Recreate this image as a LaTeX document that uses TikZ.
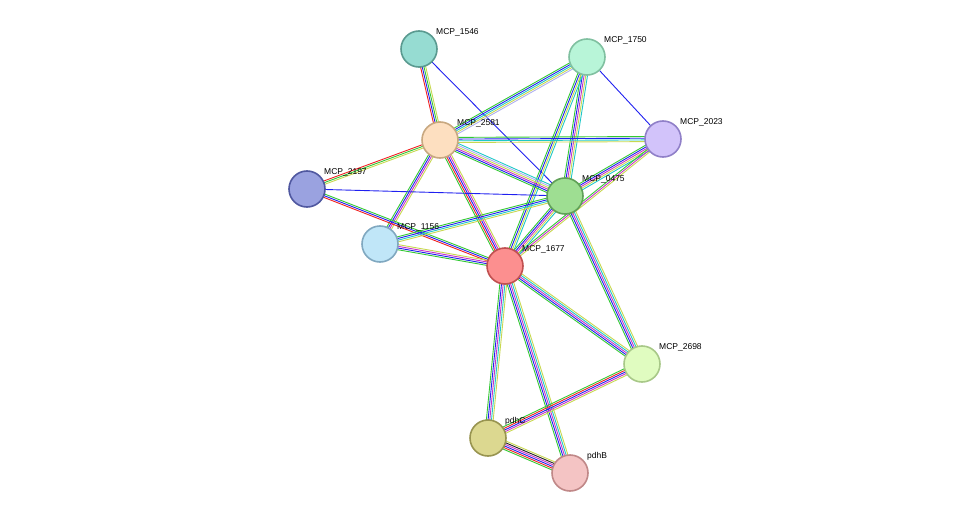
\documentclass[tikz,border=0pt]{standalone}
\usepackage{fontspec}
\setmainfont{Liberation Sans}
\usetikzlibrary{calc}
\definecolor{G}{HTML}{33C833}\definecolor{R}{HTML}{F02020}\definecolor{B}{HTML}{2020F0}
\definecolor{C}{HTML}{20C8C8}\definecolor{M}{HTML}{C832C8}\definecolor{Y}{HTML}{C8D850}
\definecolor{K}{HTML}{202020}\definecolor{L}{HTML}{B0B0F0}
\newcommand\sedge[4]{\foreach \c [count=\i] in {#4}{%
 \pgfmathsetmacro\o{(\i-(#3+1)/2)*1.7}%
 \draw[\c,line width=0.9pt] ($(#1.center)!\o pt!90:(#2.center)$) -- ($(#2.center)!\o pt!-90:(#1.center)$);}}
\tikzset{prot/.style={circle,minimum size=36pt,line width=1.6pt,inner sep=0pt},
 lab/.style={anchor=south west,font=\fontsize{8.5}{10}\selectfont,inner sep=1pt}}
\begin{document}
\begin{tikzpicture}[x=1pt,y=-1pt]
\useasboundingbox (0,0) rectangle (975,519);
\coordinate (n1546) at (419,49); \coordinate (n1750) at (587,57);
\coordinate (n2023) at (663,139); \coordinate (n2581) at (440,140);
\coordinate (n2197) at (307,189); \coordinate (n0475) at (565,196);
\coordinate (n1156) at (380,244); \coordinate (n1677) at (505,266);
\coordinate (n2698) at (642,364); \coordinate (pdhC) at (488,438);
\coordinate (pdhB) at (570,473);
\sedge{n1546}{n2581}{4}{R,B,G,Y}
\sedge{n1546}{n0475}{1}{B}
\sedge{n1750}{n2581}{5}{G,B,C,Y,L}
\sedge{n1750}{n2023}{1}{B}
\sedge{n1750}{n0475}{5}{G,B,M,Y,C}
\sedge{n1750}{n1677}{4}{G,B,Y,C}
\sedge{n2023}{n2581}{4}{G,B,C,Y}
\sedge{n2023}{n0475}{5}{G,B,M,Y,C}
\sedge{n2023}{n1677}{3}{G,M,Y}
\sedge{n2581}{n2197}{3}{R,G,Y}
\sedge{n2581}{n0475}{6}{G,B,M,Y,L,C}
\sedge{n2581}{n1156}{4}{G,B,M,Y}
\sedge{n2581}{n1677}{5}{G,R,B,M,Y}
\sedge{n2197}{n0475}{1}{B}
\sedge{n2197}{n1677}{3}{R,B,G}
\sedge{n0475}{n1156}{4}{G,B,C,Y}
\sedge{n0475}{n1677}{5}{G,B,M,Y,C}
\sedge{n0475}{n2698}{5}{G,B,M,C,Y}
\sedge{n1156}{n1677}{4}{G,B,M,Y}
\sedge{n1677}{n2698}{5}{G,B,M,C,Y}
\sedge{n1677}{pdhC}{5}{G,B,M,C,Y}
\sedge{n1677}{pdhB}{5}{G,B,M,C,Y}
\sedge{n2698}{pdhC}{5}{G,R,B,M,Y}
\sedge{pdhC}{pdhB}{6}{G,R,B,M,K,Y}
\foreach \n/\f/\d/\t in {n1546/96DCD2/5A9A90/MCP\_1546, n1750/B8F5D8/80C0A0/MCP\_1750,
 n2023/D2C3FA/9080C8/MCP\_2023, n2581/FDDFC0/C8A880/MCP\_2581, n2197/9AA2E0/5058A0/MCP\_2197,
 n0475/9EDE92/60A058/MCP\_0475, n1156/C0E6F8/80A8C0/MCP\_1156, n1677/FC8F8F/C05050/MCP\_1677,
 n2698/E0FCC0/A8C888/MCP\_2698, pdhC/DCD890/989450/pdhC, pdhB/F4C4C4/C08888/pdhB}{
 \definecolor{fc}{HTML}{\f}\definecolor{dc}{HTML}{\d}
 \node[prot,fill=fc,draw=dc] (\n x) at (\n) {};
 \node[lab] at ($(\n)+(16,-12)$) {\t};}
\end{tikzpicture}
\end{document}
